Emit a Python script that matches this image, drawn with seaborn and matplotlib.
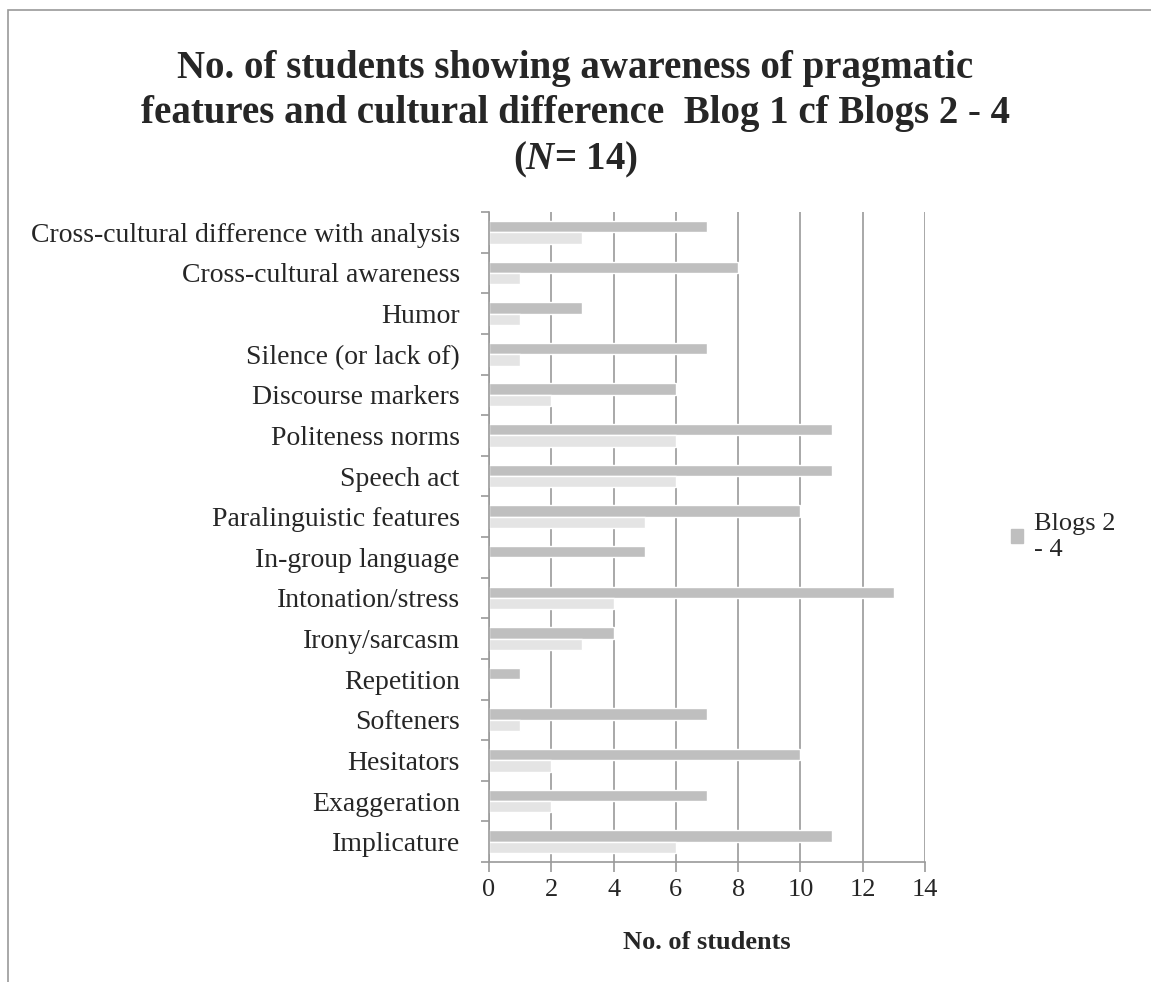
import pandas as pd
import matplotlib.pyplot as plt
import seaborn as sns
from matplotlib.patches import Rectangle

# categories, top to bottom
categories = ['Cross-cultural difference with analysis', 'Cross-cultural awareness', 'Humor',
              'Silence (or lack of)', 'Discourse markers', 'Politeness norms', 'Speech act',
              'Paralinguistic features', 'In-group language', 'Intonation/stress',
              'Irony/sarcasm', 'Repetition', 'Softeners', 'Hesitators', 'Exaggeration',
              'Implicature']
blogs_2_4 = [7, 8, 3, 7, 6, 11, 11, 10, 5, 13, 4, 1, 7, 10, 7, 11]
blog_1 = [3, 1, 1, 1, 2, 6, 6, 5, 0, 4, 3, 0, 1, 2, 2, 6]
x_ticks = [0, 2, 4, 6, 8, 10, 12, 14]

df = pd.DataFrame({
    'Feature': categories * 2,
    'Students': blogs_2_4 + blog_1,
    'Series': ['Blogs 2 - 4'] * len(categories) + ['Blog 1'] * len(categories),
})

sns.set_style('white')
plt.rcParams['font.family'] = ['Liberation Serif', 'DejaVu Serif']
plt.rcParams['mathtext.fontset'] = 'custom'
plt.rcParams['mathtext.it'] = 'Liberation Serif:italic:bold'

fig = plt.figure(figsize=(11.51, 9.82), dpi=100)
ax = fig.add_axes([489 / 1151, 1 - 862 / 982, 436 / 1151, 650 / 982])

sns.barplot(data=df, y='Feature', x='Students', hue='Series',
            hue_order=['Blogs 2 - 4', 'Blog 1'], order=categories,
            palette=['#bfbfbf', '#e4e4e4'], width=0.56, orient='h',
            saturation=1, legend=False, ax=ax)

gray = '#9a9a9a'
ax.set_xlim(0, 14)
ax.set_ylim(len(categories) - 0.5, -0.5)
ax.set_xticks(x_ticks)
ax.set_xticklabels([str(t) for t in x_ticks], fontsize=19)
ax.tick_params(axis='y', which='major', labelsize=20, left=False, length=0, pad=21)
ax.tick_params(axis='x', bottom=True, length=7, color=gray, width=1.2, pad=5)
ax.set_yticks([i - 0.5 for i in range(len(categories) + 1)], minor=True)
ax.tick_params(axis='y', which='minor', left=True, length=6, color=gray, width=1.2)
ax.grid(axis='x', color=gray, linewidth=1.2)
ax.set_axisbelow(True)
for s in ['top', 'right']:
    ax.spines[s].set_visible(False)
for s in ['left', 'bottom']:
    ax.spines[s].set_color(gray)
    ax.spines[s].set_linewidth(1.2)
ax.set_ylabel('')
ax.set_xlabel('No. of students', fontsize=19, fontweight='bold', labelpad=22)

ax.legend([Rectangle((0, 0), 1, 1, color='#bfbfbf')], ['Blogs 2\n- 4'],
          loc='center left', bbox_to_anchor=(1.198, 0.5), frameon=False,
          fontsize=19, handlelength=0.45, handleheight=0.45, handletextpad=0.4,
          borderpad=0, borderaxespad=0, labelspacing=0.3)

fig.text(0.5, 1 - 50 / 982, 'No. of students showing awareness of pragmatic\n'
         'features and cultural difference  Blog 1 cf Blogs 2 - 4\n'
         '($\\mathit{N}$= 14)', ha='center', va='top', fontsize=28,
         fontweight='bold', linespacing=1.28)

fig.patches.append(Rectangle((8 / 1151, -0.1), 1.2, 1.1 - 10 / 982, transform=fig.transFigure,
                             fill=False, edgecolor=gray, linewidth=1.2))

fig.savefig('out.png', dpi=100)
